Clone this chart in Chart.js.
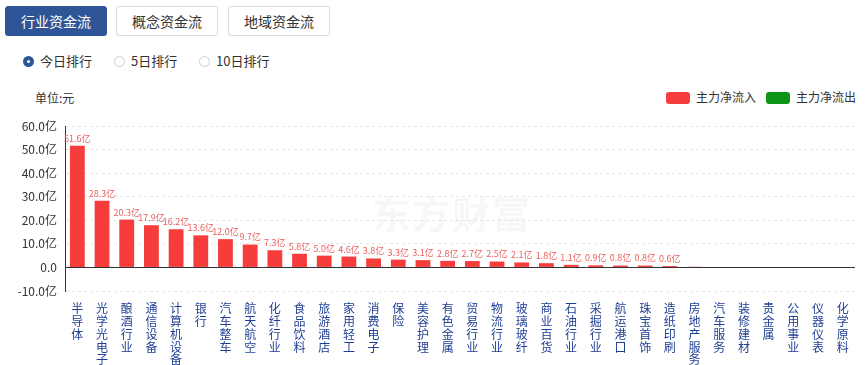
<!DOCTYPE html>
<html>
<head>
<meta charset="utf-8">
<script src="https://cdn.jsdelivr.net/npm/chart.js@4.4.0/dist/chart.umd.min.js"></script>
<style>
    body { margin: 0; width: 867px; height: 365px; background: #fff; position: relative; overflow: hidden;
        font-family: "Noto Sans CJK SC", "Microsoft YaHei", sans-serif; color: #333; }
    .tab { position: absolute; top: 6px; height: 28px; line-height: 28px; width: 100px; text-align: center;
        font-size: 14px; border: 1px solid #d6dbe4; border-radius: 3px; background: #fff; color: #333; }
    .tab.active { background: #2d5597; border-color: #2d5597; color: #fff; }
    .radio { position: absolute; top: 52px; font-size: 13px; line-height: 18px; }
    .radio i { display: inline-block; width: 11px; height: 11px; border-radius: 50%; border: 1px solid #c9cfd8;
        vertical-align: -1px; margin-right: 6px; box-sizing: border-box; background: #fff; }
    .radio.on i { border: 4px solid #2d5597; }
    #unit { position: absolute; left: 35px; top: 89px; font-size: 12px; }
    .leg { position: absolute; top: 89px; font-size: 12px; line-height: 16px; }
    .leg b { display: inline-block; width: 24px; height: 12px; border-radius: 3px; vertical-align: -2px; margin-right: 6px; }
    #wm { position: absolute; left: 372px; top: 184px; font-size: 38px; font-weight: bold;
        color: rgba(0, 0, 0, 0.05); letter-spacing: 2px; }
    #box { position: absolute; left: 0; top: 85px; width: 867px; height: 280px; }
</style>
</head>
<body>
<div class="tab active" style="left:5px">行业资金流</div>
<div class="tab" style="left:116px">概念资金流</div>
<div class="tab" style="left:228px">地域资金流</div>
<div class="radio on" style="left:23px"><i></i>今日排行</div>
<div class="radio" style="left:114px"><i></i>5日排行</div>
<div class="radio" style="left:199px"><i></i>10日排行</div>
<div id="unit">单位:元</div>
<div class="leg" style="left:666px"><b style="background:#f73c3c"></b>主力净流入</div>
<div class="leg" style="left:766px"><b style="background:#0d9516"></b>主力净流出</div>
<div id="wm">东方财富</div>
<div id="box"><canvas id="flowChart"></canvas></div>

<script>
// industry names and main net flow (亿元)
const industries = ['半导体', '光学光电子', '酿酒行业', '通信设备', '计算机设备', '银行', '汽车整车', '航天航空',
    '化纤行业', '食品饮料', '旅游酒店', '家用轻工', '消费电子', '保险', '美容护理', '有色金属', '贸易行业',
    '物流行业', '玻璃玻纤', '商业百货', '石油行业', '采掘行业', '航运港口', '珠宝首饰', '造纸印刷',
    '房地产服务', '汽车服务', '装修建材', '贵金属', '公用事业', '仪器仪表', '化学原料'];
const netFlow = [51.6, 28.3, 20.3, 17.9, 16.2, 13.6, 12.0, 9.7, 7.3, 5.8, 5.0, 4.6, 3.8, 3.3, 3.1, 2.8, 2.7,
    2.5, 2.1, 1.8, 1.1, 0.9, 0.8, 0.8, 0.6, 0.3, -0.1, -0.1, -0.1, -0.2, -0.1, -0.2];
const yTicks = [-10, 0, 10, 20, 30, 40, 50, 60];

const RED = '#f73c3c';
const GREEN = '#0d9516';

// value labels above the red bars
const barLabels = {
    id: 'barLabels',
    afterDatasetsDraw(chart) {
        const ctx = chart.ctx;
        const meta = chart.getDatasetMeta(0);
        ctx.save();
        ctx.font = '9px "Noto Sans CJK SC", sans-serif';
        ctx.fillStyle = '#e9605e';
        ctx.textAlign = 'center';
        ctx.textBaseline = 'bottom';
        meta.data.forEach((bar, i) => {
            const v = netFlow[i];
            if (v >= 0.5) ctx.fillText(v.toFixed(1) + '亿', bar.x, bar.y - 3);
        });
        ctx.restore();
    }
};

// solid zero line
const zeroLine = {
    id: 'zeroLine',
    afterDatasetsDraw(chart) {
        const y = chart.scales.y.getPixelForValue(0);
        const ctx = chart.ctx;
        ctx.save();
        ctx.strokeStyle = '#333';
        ctx.lineWidth = 1;
        ctx.beginPath();
        ctx.moveTo(chart.chartArea.left, Math.round(y) + 0.5);
        ctx.lineTo(chart.chartArea.right, Math.round(y) + 0.5);
        ctx.stroke();
        ctx.restore();
    }
};

new Chart(document.getElementById('flowChart'), {
    type: 'bar',
    data: {
        labels: industries.map(s => s.split('')),
        datasets: [
            {
                label: '主力净流入',
                data: netFlow.map(v => v >= 0 ? v : null),
                backgroundColor: RED,
                barPercentage: 0.6,
                categoryPercentage: 1
            },
            {
                label: '主力净流出',
                data: netFlow.map(v => v < 0 ? v : null),
                backgroundColor: GREEN,
                barPercentage: 0.6,
                categoryPercentage: 1
            }
        ]
    },
    options: {
        responsive: true,
        maintainAspectRatio: false,
        animation: false,
        layout: { padding: { top: 41, right: 12, left: 0, bottom: 0 } },
        plugins: {
            legend: { display: false },
            tooltip: { enabled: false }
        },
        scales: {
            x: {
                stacked: true,
                grid: { display: false },
                border: { display: false },
                ticks: {
                    color: '#1f3f95',
                    font: { size: 12, family: '"Noto Sans CJK SC", sans-serif', lineHeight: 1.07 },
                    maxRotation: 0,
                    autoSkip: false,
                    padding: 3
                },
                afterFit(scale) { scale.height = 74; }
            },
            y: {
                stacked: true,
                min: -10,
                max: 60,
                afterBuildTicks(scale) { scale.ticks = yTicks.map(v => ({ value: v })); },
                grid: { color: '#e6e6e6', drawTicks: false },
                border: { display: true, color: '#333', dash: [3, 3] },
                ticks: {
                    color: '#333',
                    font: { size: 12, family: '"Noto Sans CJK SC", sans-serif' },
                    padding: 8,
                    callback: v => v === 0 ? '0.0' : v.toFixed(1) + '亿'
                },
                afterFit(scale) { scale.width = 65; }
            }
        }
    },
    plugins: [barLabels, zeroLine]
});
</script>
</body>
</html>
